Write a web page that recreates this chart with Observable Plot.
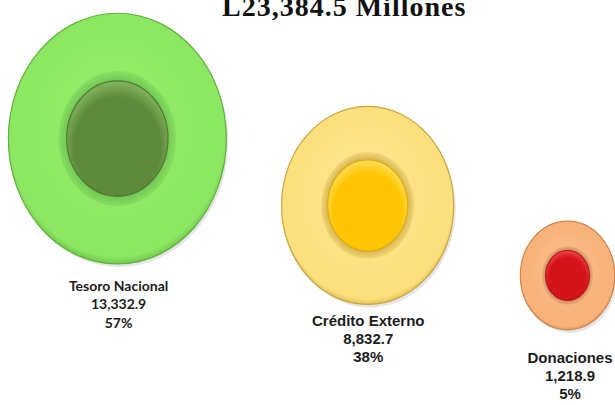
<!DOCTYPE html>
<html>
<head>
<meta charset="utf-8">
<script src="https://cdn.jsdelivr.net/npm/d3@7"></script>
<script src="https://cdn.jsdelivr.net/npm/@observablehq/plot@0.6"></script>
<style>
  html, body { margin: 0; padding: 0; background: #fff; }
  #wrap { position: relative; width: 615px; height: 405px; overflow: hidden; background: #fff; }
  #title { position: absolute; top: -9px; left: 222px; white-space: nowrap;
           font-family: "Liberation Serif", "DejaVu Serif", serif; font-weight: bold;
           font-size: 28px; letter-spacing: 1px; color: #111; line-height: normal; z-index: 2; }
  #chart { position: absolute; top: 0; left: 0; }
</style>
</head>
<body>
<div id="wrap">
  <div id="title"></div>
  <div id="chart"></div>
</div>
<script>
// ---------------- data ----------------
const totalLabel = "L23,384.5 Millones";
const categories = ["Tesoro Nacional", "Crédito Externo", "Donaciones"];
const amounts = [13332.9, 8832.7, 1218.9];
const amountLabels = ["13,332.9", "8,832.7", "1,218.9"];
const shareLabels = ["57%", "38%", "5%"];

// ---------------- layout (chart units, 0..100) ----------------
const bubbleX = [19.0, 59.7, 92.2];
const bubbleY = [34.1, 50.6, 67.9];
const labelX = [19.2, 59.8, 92.6];
const labelY = [68.6, 77.3, 86.4];

// ---------------- styles ----------------
const palette = [
  { outer: ["#98f06e", "#8ce862", "#72c84c"], stroke: "#62b040", halo: "#6cbf4f",
    inner: ["#84b45e", "#5d8b3b", "#466c2a"] },
  { outer: ["#ffe896", "#fde07e", "#e6c25a"], stroke: "#c9a640", halo: "#cfae48",
    inner: ["#ffe05a", "#ffc402", "#e0a400"] },
  { outer: ["#fcc08e", "#f8b27a", "#e2975e"], stroke: "#c98450", halo: "#c48658",
    inner: ["#f0444a", "#d5131a", "#a80c10"] }
];

document.getElementById("title").textContent = totalLabel;

const rows = categories.map((c, i) => ({
  i, category: c, amount: amounts[i],
  x: bubbleX[i], y: bubbleY[i], lx: labelX[i], ly: labelY[i],
  text: `${c}\n${amountLabels[i]}\n${shareLabels[i]}`
}));

function ellipseSymbol(f, k = 1.15) {
  return {
    draw(ctx, size) {
      const rx = Math.sqrt(size / Math.PI) * f, ry = rx * k, c = 0.5523;
      ctx.moveTo(rx, 0);
      ctx.bezierCurveTo(rx, ry * c, rx * c, ry, 0, ry);
      ctx.bezierCurveTo(-rx * c, ry, -rx, ry * c, -rx, 0);
      ctx.bezierCurveTo(-rx, -ry * c, -rx * c, -ry, 0, -ry);
      ctx.bezierCurveTo(rx * c, -ry, rx, -ry * c, rx, 0);
      ctx.closePath();
    }
  };
}

function defsMark() {
  const defs = d3.create("svg:defs");
  const blur = defs.append("filter").attr("id", "softblur").attr("x", "-20%").attr("y", "-20%").attr("width", "140%").attr("height", "140%");
  blur.append("feGaussianBlur").attr("stdDeviation", 3);
  palette.forEach((p, i) => {
    const go = defs.append("radialGradient").attr("id", `outer${i}`).attr("cx", "50%").attr("cy", "48%").attr("r", "52%").attr("fx", "45%").attr("fy", "40%");
    go.append("stop").attr("offset", "0%").attr("stop-color", p.outer[0]);
    go.append("stop").attr("offset", "80%").attr("stop-color", p.outer[1]);
    go.append("stop").attr("offset", "95%").attr("stop-color", p.outer[1]);
    go.append("stop").attr("offset", "100%").attr("stop-color", p.outer[2]);
    const gh = defs.append("radialGradient").attr("id", `halo${i}`).attr("cx", "50%").attr("cy", "50%").attr("r", "50%");
    gh.append("stop").attr("offset", "0%").attr("stop-color", p.halo);
    gh.append("stop").attr("offset", "82%").attr("stop-color", p.halo);
    gh.append("stop").attr("offset", "100%").attr("stop-color", p.halo).attr("stop-opacity", 0.25);
    const gi = defs.append("radialGradient").attr("id", `inner${i}`).attr("cx", "50%").attr("cy", "55%").attr("r", "55%").attr("fx", "50%").attr("fy", "65%");
    gi.append("stop").attr("offset", "0%").attr("stop-color", p.inner[1]);
    gi.append("stop").attr("offset", "78%").attr("stop-color", p.inner[1]);
    gi.append("stop").attr("offset", "100%").attr("stop-color", p.inner[0]);
  });
  return defs.node();
}

const marks = [defsMark];
rows.forEach((d, i) => {
  const p = palette[i];
  marks.push(
    Plot.dot([d], { x: "x", y: "y", r: "amount", symbol: ellipseSymbol(1.0), fill: "#000", fillOpacity: 0.10, dx: 2, dy: 3, ariaLabel: "shadow" }),
    Plot.dot([d], { x: "x", y: "y", r: "amount", symbol: ellipseSymbol(1.0), fill: `url(#outer${i})`, stroke: p.stroke, strokeWidth: 1.2 }),
    Plot.dot([d], { x: "x", y: "y", r: "amount", symbol: ellipseSymbol(0.54), fill: `url(#halo${i})` }),
    Plot.dot([d], { x: "x", y: "y", r: "amount", symbol: ellipseSymbol(0.465, 1.14), fill: `url(#inner${i})`, stroke: p.inner[2], strokeWidth: 1.2, strokeOpacity: 0.8 })
  );
});

marks.push(
  Plot.text(rows, { filter: d => d.i === 0, x: "lx", y: "ly", text: "text", lineAnchor: "top", lineHeight: 1.3,
    fontSize: 14, fontWeight: "bold", fontFamily: "Lato, 'Open Sans', sans-serif", fill: "#1c1c1c" }),
  Plot.text(rows, { filter: d => d.i > 0, x: "lx", y: "ly", text: "text", lineAnchor: "top", lineHeight: 1.2,
    fontSize: 15, fontWeight: "bold", fontFamily: "'Liberation Sans', Arial, sans-serif", fill: "#1c1c1c" })
);

const chart = Plot.plot({
  width: 615,
  height: 405,
  margin: 0,
  style: { background: "transparent", overflow: "visible" },
  x: { domain: [0, 100], axis: null },
  y: { domain: [0, 100], reverse: true, axis: null },
  r: { type: "linear", domain: [0, d3.max(amounts)], range: [41, 109] },
  marks
});
d3.select(chart).selectAll('g[aria-label="shadow"]').attr("filter", "url(#softblur)");
document.getElementById("chart").appendChild(chart);
</script>
</body>
</html>
